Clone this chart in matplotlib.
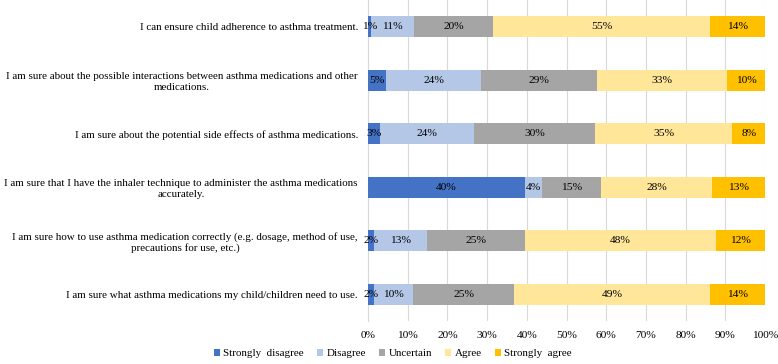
import matplotlib
matplotlib.use("Agg")
import matplotlib.pyplot as plt
import numpy as np

categories = [
    "I can ensure child adherence to asthma treatment.",
    "I am sure about the possible interactions between asthma medications and other\nmedications.",
    "I am sure about the potential side effects of asthma medications.",
    "I am sure that I have the inhaler technique to administer the asthma medications\naccurately.",
    "I am sure how to use asthma medication correctly (e.g. dosage, method of use,\nprecautions for use, etc.)",
    "I am sure what asthma medications my child/children need to use.",
]
series_names = ["Strongly  disagree", "Disagree", "Uncertain", "Agree", "Strongly  agree"]
strongly_disagree = [0.8, 4.6, 3.0, 39.6, 1.6, 1.6]
disagree = [10.7, 23.9, 23.7, 4.2, 13.3, 9.8]
uncertain = [20.0, 29.3, 30.4, 14.8, 24.6, 25.4]
agree = [54.6, 32.6, 34.7, 28.1, 48.2, 49.3]
strongly_agree = [13.9, 9.6, 8.2, 13.3, 12.3, 13.9]
xtick_labels = ["0%", "10%", "20%", "30%", "40%", "50%", "60%", "70%", "80%", "90%", "100%"]

colors = ["#4472C4", "#B4C7E7", "#A5A5A5", "#FFE699", "#FFC000"]

plt.rcParams["font.family"] = ["Liberation Serif", "DejaVu Serif"]
fs_cat = 7.95
fs = 8.2

fig = plt.figure(figsize=(7.78, 3.64), dpi=100)
ax = fig.add_axes([368 / 778, 1 - 321 / 364, (765 - 368) / 778, 321 / 364])

data = [strongly_disagree, disagree, uncertain, agree, strongly_agree]
y = np.arange(len(categories))
left = np.zeros(len(categories))
handles = []
for vals, name, c in zip(data, series_names, colors):
    vals = np.array(vals)
    b = ax.barh(y, vals / 100.0, left=left, height=0.4, color=c, label=name, zorder=3)
    handles.append(b)
    for yi, l, v in zip(y, left, vals):
        ax.text(l + v / 200.0, yi, f"{v:.0f}%", ha="center", va="center",
                fontsize=fs, color="black", zorder=4)
    left = left + vals / 100.0

ax.set_ylim(len(categories) - 0.5, -0.5)
ax.set_xlim(0, 1)
ax.set_xticks(np.linspace(0, 1, 11))
ax.set_xticklabels(xtick_labels, fontsize=fs)
ax.set_yticks(y)
ax.set_yticklabels(categories, fontsize=fs_cat)
for lbl in ax.get_yticklabels():
    lbl.set_multialignment("center")
ax.tick_params(axis="both", length=0)
ax.tick_params(axis="y", pad=7.2)
ax.tick_params(axis="x", pad=7)
ax.grid(axis="x", color="#D9D9D9", linewidth=0.8, zorder=0)
for s in ["top", "right", "bottom"]:
    ax.spines[s].set_visible(False)
ax.spines["left"].set_color("#D9D9D9")
ax.spines["left"].set_zorder(1)

fig.legend(handles=handles, labels=series_names, loc="center", bbox_to_anchor=(393 / 778, 1 - 353.5 / 364),
           ncol=5, frameon=False, fontsize=7.9, handlelength=0.55, handleheight=0.55,
           handletextpad=0.3, columnspacing=1.2)

fig.savefig("out.png", dpi=100)
